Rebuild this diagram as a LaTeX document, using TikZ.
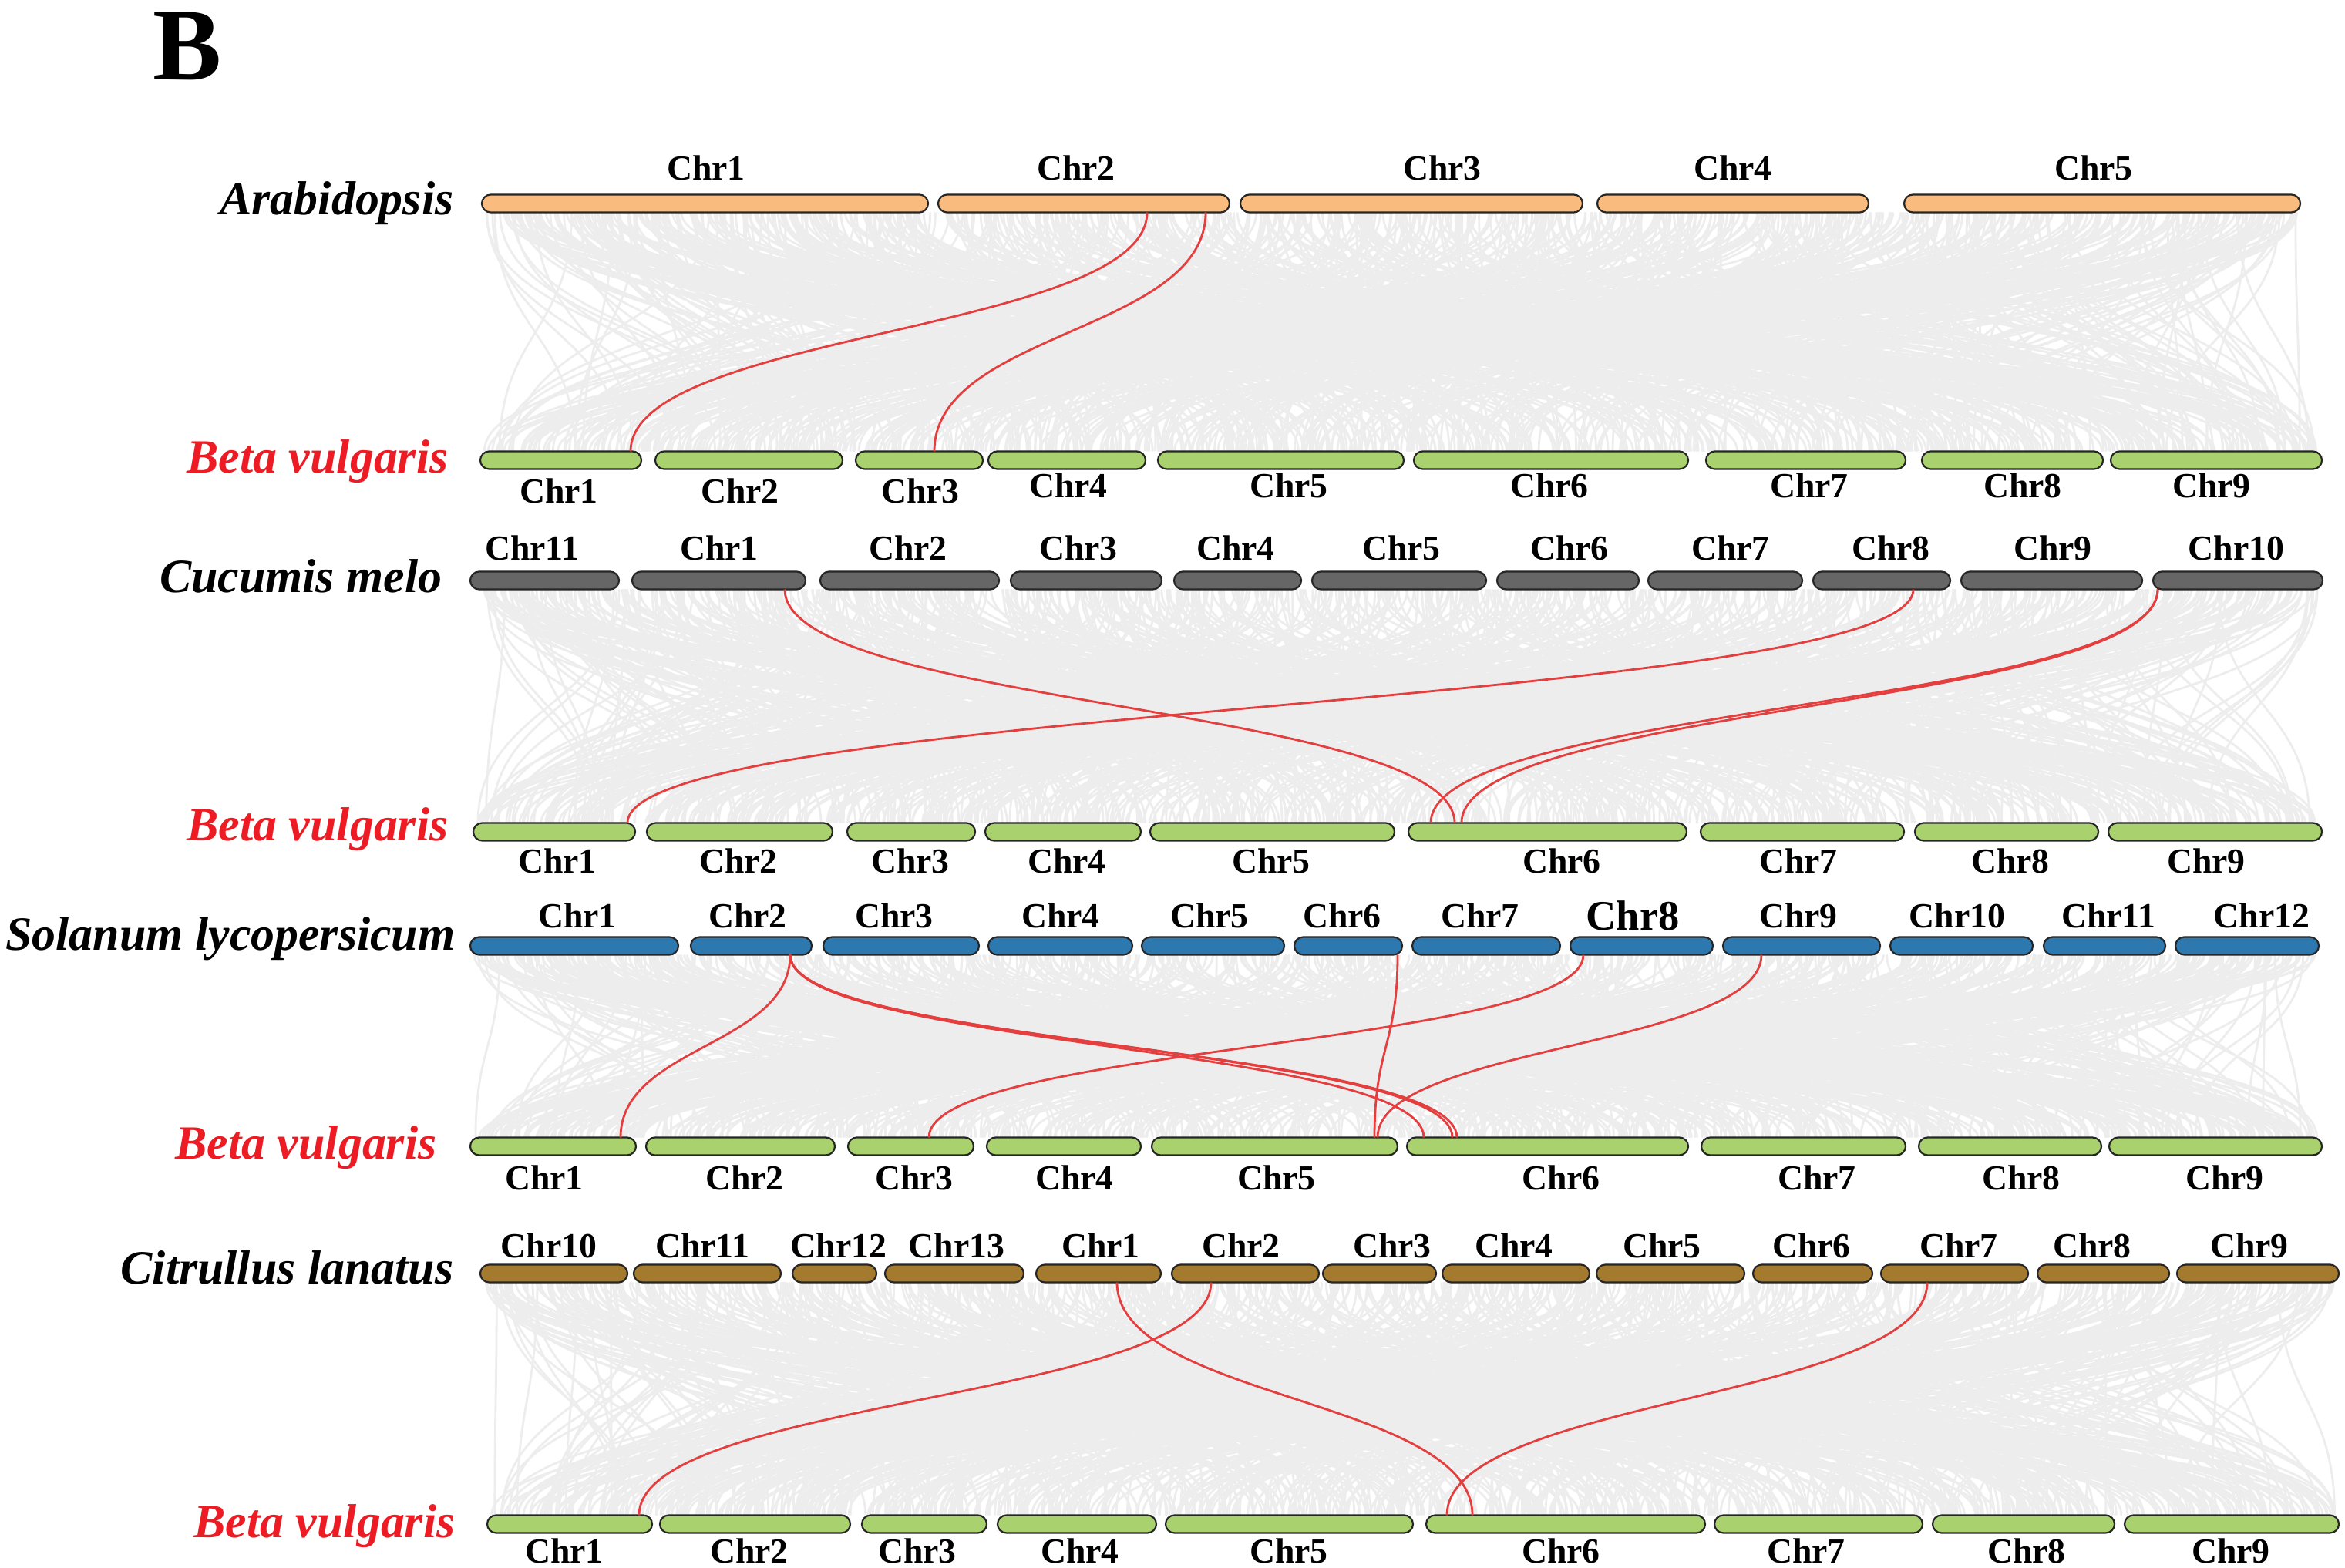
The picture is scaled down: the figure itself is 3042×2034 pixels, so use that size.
\documentclass[tikz,border=0pt]{standalone}
\usepackage{fontspec}
\setmainfont{Liberation Serif}
\usetikzlibrary{calc}
\definecolor{arab}{RGB}{250,188,126}
\definecolor{beta}{RGB}{169,210,110}
\definecolor{cucu}{RGB}{102,102,102}
\definecolor{sola}{RGB}{46,120,176}
\definecolor{citr}{RGB}{164,122,46}
\definecolor{syn}{RGB}{237,237,237}
\definecolor{hl}{RGB}{228,62,62}
\definecolor{spred}{RGB}{237,28,36}
\tikzset{
  chrbar/.style={draw=black!85, line width=0.022cm, rounded corners=0.115cm},
  chrlab/.style={font=\fontsize{13}{15}\selectfont\bfseries, inner sep=0pt, anchor=base},
  species/.style={font=\fontsize{17.6}{20}\selectfont\bfseries\itshape, inner sep=0pt, anchor=base east},
  synline/.style={draw=syn, line width=0.028cm},
  hiline/.style={draw=hl, line width=0.028cm},
}
\newcommand\synteny[7]{%
  \foreach \k in {1,...,#7}{%
    \pgfmathsetmacro\xa{#1+rnd*(#2-#1)}%
    \pgfmathsetmacro\xb{#4+rnd*(#5-#4)}%
    \draw[synline] (\xa,#3) .. controls (\xa,{(#3+#6)/2}) and (\xb,{(#3+#6)/2}) .. (\xb,#6);
  }}
\newcommand\hilink[2]{%
  \draw[hiline] (#1) .. controls ($(#1)!0.5!(#1 |- #2)$) and ($(#2)!0.5!(#2 |- #1)$) .. (#2);}
\begin{document}
\begin{tikzpicture}[x=0.01cm, y=-0.01cm]
\useasboundingbox (0,0) rectangle (3042,2034);
\fill[white] (0,0) rectangle (3042,2034);
\pgfmathsetseed{20240611}

% ---------- background synteny ----------
\synteny{630}{2980}{275.5}{628}{3008}{585.5}{900}
\synteny{615}{3008}{764.5}{618}{3008}{1067.5}{900}
\synteny{615}{3003}{1238.5}{615}{3008}{1475.5}{900}
\synteny{628}{3030}{1663.5}{637}{3030}{1965.5}{900}

% ---------- title ----------
\node[font=\fontsize{38}{40}\selectfont\bfseries, anchor=base west, inner sep=0pt, text height=0.68em, text depth=0pt] (title) at (198,104) {B};

% ---------- Arabidopsis ----------
\node[species] (sp1) at (589,279) {Arabidopsis};
\foreach \n/\a/\b/\l in {1/625/1204/916, 2/1217/1595/1396, 3/1609/2053/1871, 4/2072/2424/2248, 5/2470/2984/2716}{
  \draw[chrbar, fill=arab] (\a,252.5) rectangle (\b,275.5);
  \node[chrlab] (ar\n) at (\l,234) {Chr\n};
}

% ---------- Beta vulgaris 1 ----------
\node[species, text=spred] (sp2) at (582,614) {Beta vulgaris};
\foreach \n/\a/\b/\l/\y in {1/623/832/725/653, 2/850/1093/960/653, 3/1110/1275/1194/653, 4/1282/1486/1386/646, 5/1502/1821/1672/646, 6/1834/2190/2010/646, 7/2213/2472/2347/646, 8/2493/2728/2624/646, 9/2738/3012/2869/646}{
  \draw[chrbar, fill=beta] (\a,585.5) rectangle (\b,608.5);
  \node[chrlab] (ba\n) at (\l,\y) {Chr\n};
}

% ---------- Cucumis melo ----------
\node[species] (sp3) at (574,769) {Cucumis melo};
\foreach \n/\a/\b/\l in {11/610/803/690, 1/820/1045/933, 2/1064/1296/1178, 3/1311/1507/1399, 4/1523/1688/1603, 5/1702/1928/1818, 6/1942/2126/2036, 7/2138/2338/2245, 8/2352/2530/2453, 9/2544/2779/2663, 10/2793/3013/2901}{
  \draw[chrbar, fill=cucu] (\a,741.5) rectangle (\b,764.5);
  \node[chrlab] (cm\n) at (\l,727) {Chr\n};
}

% ---------- Beta vulgaris 2 ----------
\node[species, text=spred] (sp4) at (582,1090) {Beta vulgaris};
\foreach \n/\a/\b/\l in {1/614/824/723, 2/839/1080/958, 3/1099/1265/1181, 4/1278/1480/1384, 5/1492/1809/1649, 6/1827/2188/2026, 7/2206/2470/2333, 8/2484/2722/2608, 9/2735/3012/2862}{
  \draw[chrbar, fill=beta] (\a,1067.5) rectangle (\b,1090.5);
  \node[chrlab] (bb\n) at (\l,1132) {Chr\n};
}

% ---------- Solanum lycopersicum ----------
\node[species] (sp5) at (591,1232) {Solanum lycopersicum};
\foreach \n/\a/\b/\l in {1/610/880/749, 2/896/1053/970, 3/1068/1270/1160, 4/1282/1469/1376, 5/1481/1666/1569, 6/1679/1819/1741, 7/1832/2024/1920, 9/2235/2439/2333, 10/2452/2637/2539, 11/2651/2809/2735, 12/2822/3008/2934}{
  \draw[chrbar, fill=sola] (\a,1215.5) rectangle (\b,1238.5);
  \node[chrlab] (sl\n) at (\l,1203) {Chr\n};
}
\draw[chrbar, fill=sola] (2037,1215.5) rectangle (2222,1238.5);
\node[chrlab, font=\fontsize{15.5}{17}\selectfont\bfseries] (sl8) at (2118,1206) {Chr8};

% ---------- Beta vulgaris 3 ----------
\node[species, text=spred] (sp6) at (567,1503) {Beta vulgaris};
\foreach \n/\a/\b/\l in {1/610/825/706, 2/838/1083/966, 3/1100/1263/1186, 4/1280/1480/1394, 5/1494/1813/1656, 6/1825/2190/2025, 7/2207/2472/2357, 8/2489/2726/2622, 9/2736/3012/2886}{
  \draw[chrbar, fill=beta] (\a,1475.5) rectangle (\b,1498.5);
  \node[chrlab] (bc\n) at (\l,1543) {Chr\n};
}

% ---------- Citrullus lanatus ----------
\node[species] (sp7) at (589,1665) {Citrullus lanatus};
\foreach \n/\a/\b/\l in {10/623/814/712, 11/822/1013/911, 12/1028/1137/1088, 13/1148/1328/1241, 1/1344/1506/1428, 2/1520/1711/1610, 3/1716/1863/1806, 4/1871/2062/1964, 5/2071/2263/2156, 6/2274/2429/2350, 7/2440/2631/2541, 8/2643/2814/2714, 9/2824/3034/2918}{
  \draw[chrbar, fill=citr] (\a,1640.5) rectangle (\b,1663.5);
  \node[chrlab] (cl\n) at (\l,1631) {Chr\n};
}

% ---------- Beta vulgaris 4 ----------
\node[species, text=spred] (sp8) at (591,1994) {Beta vulgaris};
\foreach \n/\a/\b/\l in {1/632/846/732, 2/856/1103/972, 3/1118/1280/1190, 4/1294/1500/1401, 5/1512/1833/1672, 6/1850/2212/2025, 7/2224/2494/2343, 8/2507/2743/2629, 9/2756/3034/2894}{
  \draw[chrbar, fill=beta] (\a,1965.5) rectangle (\b,1988.5);
  \node[chrlab] (bd\n) at (\l,2027) {Chr\n};
}

% ---------- highlighted links ----------
% panel 1
\coordinate (a2p) at (1488,275.5);  \coordinate (b1p) at (818,585.5);
\coordinate (a2q) at (1564,275.5);  \coordinate (b3p) at (1212,585.5);
\hilink{a2p}{b1p}
\hilink{a2q}{b3p}
% panel 2
\coordinate (c1p) at (1018,764.5);  \coordinate (e6p) at (1887,1067.5);
\coordinate (c8p) at (2482,764.5);  \coordinate (e1p) at (814,1067.5);
\coordinate (c10p) at (2799,764.5); \coordinate (e6q) at (1856,1067.5);
\coordinate (e6r) at (1896,1067.5);
\hilink{c1p}{e6p}
\hilink{c8p}{e1p}
\hilink{c10p}{e6q}
\hilink{c10p}{e6r}
% panel 3
\coordinate (s2p) at (1025,1238.5); \coordinate (f1p) at (805,1475.5);
\coordinate (f6p) at (1847,1475.5); \coordinate (f6q) at (1884,1475.5);
\coordinate (f6r) at (1890,1475.5);
\coordinate (s6p) at (1813,1238.5); \coordinate (f5p) at (1783,1475.5);
\coordinate (s8p) at (2054,1238.5); \coordinate (f3p) at (1205,1475.5);
\coordinate (s9p) at (2285,1238.5); \coordinate (f5q) at (1787,1475.5);
\hilink{s2p}{f1p}
\hilink{s2p}{f6p}
\hilink{s2p}{f6q}
\hilink{s2p}{f6r}
\hilink{s6p}{f5p}
\hilink{s8p}{f3p}
\hilink{s9p}{f5q}
% panel 4
\coordinate (g1p) at (1449,1663.5); \coordinate (h6p) at (1910,1965.5);
\coordinate (g2p) at (1571,1663.5); \coordinate (h1p) at (829,1965.5);
\coordinate (g7p) at (2500,1663.5); \coordinate (h6q) at (1877,1965.5);
\hilink{g1p}{h6p}
\hilink{g2p}{h1p}
\hilink{g7p}{h6q}
\end{tikzpicture}
\end{document}
